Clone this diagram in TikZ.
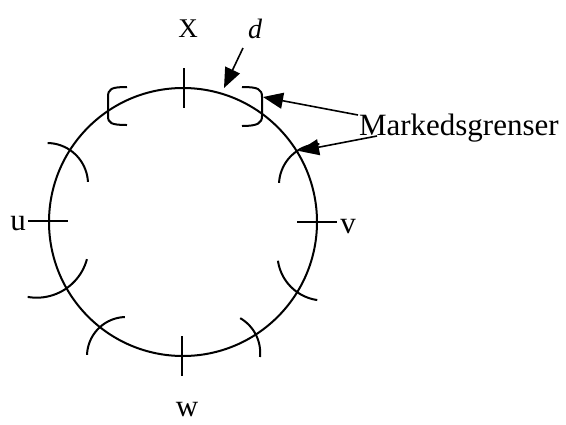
\documentclass[tikz,border=0pt]{standalone}
\usepackage{fontspec}
\setmainfont{Liberation Serif}
\usetikzlibrary{arrows.meta}
\begin{document}
\begin{tikzpicture}[x=1pt,y=-1pt,line width=2pt,
  lbl/.style={inner sep=0pt,anchor=base},
  big/.style={font=\fontsize{31}{31}\selectfont},
  pointer/.style={-{Triangle[length=20pt,width=16pt]},line width=1.6pt}]
\useasboundingbox (0,0) rectangle (566,424);
% main circle
\draw (183,222) circle[radius=134pt];
% point ticks
\draw (184,68) -- (184,108);
\draw (28,221) -- (68,221);
\draw (297,222) -- (337,222);
\draw (182,336) -- (182,376);
% market boundary arcs
\draw plot[smooth,samples=25,domain=-89:-3,variable=\t] ({47+41*cos(\t)},{184+41*sin(\t)});
\draw plot[smooth,samples=25,domain=-177:-91,variable=\t] ({320+41*cos(\t)},{185+41*sin(\t)});
\draw plot[smooth,samples=25,domain=15:100,variable=\t] ({36.7+52*cos(\t)},{245.7+52*sin(\t)});
\draw plot[smooth,samples=25,domain=98:172,variable=\t] ({323.7+46.2*cos(\t)},{254.3+46.2*sin(\t)});
\draw plot[smooth,samples=25,domain=182:268,variable=\t] ({126.2+39.2*cos(\t)},{356.2+39.2*sin(\t)});
\draw plot[smooth,samples=25,domain=-60:6,variable=\t] ({220.2+40*cos(\t)},{352.8+40*sin(\t)});
% brackets at X
\draw (127,87) .. controls (111,87) and (108,89) .. (108,97) -- (108,116) .. controls (108,123) and (111,125) .. (127,125);
\draw (242,87) .. controls (258,87) and (262,89) .. (262,97) -- (262,116) .. controls (262,123) and (258,126) .. (242,126);
% labels
\node[lbl,font=\fontsize{27}{27}\selectfont] (X) at (188,37) {X};
\node[lbl,font=\fontsize{28}{28}\selectfont\itshape] (d) at (255,38) {d};
\node[lbl,big] (u) at (18,230) {u};
\node[lbl,big] (v) at (348,233) {v};
\node[lbl,big] (w) at (187,416) {w};
\node[inner sep=0pt,anchor=base west,big] (M) at (358,135) {Markedsgrenser};
% arrows
\coordinate (dtail) at (243,48);
\coordinate (dtip) at (224,88);
\coordinate (m1) at (358,115);
\coordinate (t1) at (263,97);
\coordinate (m2) at (377,136);
\coordinate (t2) at (299,151);
\draw[pointer] (dtail) -- (dtip);
\draw[pointer] (m1) -- (t1);
\draw[pointer] (m2) -- (t2);
\end{tikzpicture}
\end{document}
